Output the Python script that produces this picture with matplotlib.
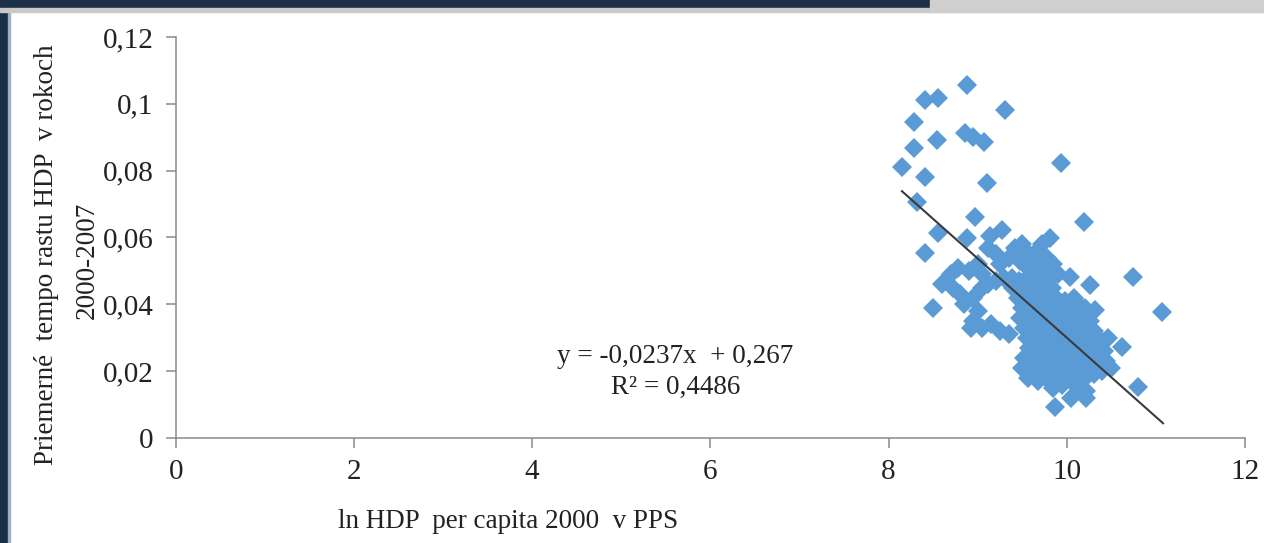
import numpy as np
import matplotlib.pyplot as plt
from matplotlib.patches import Rectangle

plt.rcParams["font.family"] = "Liberation Serif"
plt.rcParams["font.size"] = 21

# scattered regions away from the main cloud
outlier_x = [8.88, 8.41, 8.55, 9.31, 8.28, 8.54, 8.28, 8.86, 8.95, 9.07, 9.93,
             8.15, 8.41, 9.10, 8.32, 8.97, 10.19, 8.55, 8.88, 9.14, 9.27, 8.41,
             9.81, 10.74, 11.07, 10.80, 9.87, 10.62, 10.26, 10.04, 10.32, 8.50]
outlier_y = [0.1056, 0.1011, 0.1017, 0.0981, 0.0946, 0.0892, 0.0868, 0.0913,
             0.0901, 0.0886, 0.0823, 0.0811, 0.0781, 0.0763, 0.0706, 0.0661,
             0.0646, 0.0613, 0.0598, 0.0604, 0.0622, 0.0554, 0.0598, 0.0482,
             0.0377, 0.0153, 0.0093, 0.0272, 0.0458, 0.0482, 0.0383, 0.0389]

# upper part of the cloud
upper_x = [9.12, 9.20, 9.25, 9.42, 9.50, 9.58, 9.66, 9.72, 9.78, 9.85, 9.48,
           9.56, 9.64, 9.72, 9.90, 9.35]
upper_y = [0.057, 0.055, 0.052, 0.057, 0.058, 0.055, 0.056, 0.058, 0.054,
           0.052, 0.053, 0.051, 0.052, 0.051, 0.049, 0.054]

# left lobe of the cloud
lobe_x = [8.60, 8.70, 8.78, 8.90, 9.00, 9.05, 8.72, 8.80, 8.95, 9.05, 8.85,
          9.00, 8.95, 8.92, 9.05, 9.15, 9.25, 9.35, 9.12, 9.20, 9.30]
lobe_y = [0.046, 0.049, 0.051, 0.050, 0.052, 0.049, 0.045, 0.043, 0.042,
          0.045, 0.040, 0.038, 0.035, 0.033, 0.033, 0.034, 0.032, 0.031,
          0.046, 0.047, 0.048]

# dense core of the cloud
core_x = [9.38, 9.46, 9.55, 9.62, 9.70, 9.80,
          9.40, 9.50, 9.58, 9.66, 9.75, 9.83,
          9.45, 9.55, 9.62, 9.70, 9.78, 9.88, 9.98, 10.08,
          9.50, 9.60, 9.68, 9.75, 9.85, 9.93, 10.02, 10.12, 10.20,
          9.48, 9.58, 9.66, 9.74, 9.82, 9.90, 10.00, 10.10, 10.18, 10.26,
          9.52, 9.62, 9.70, 9.80, 9.88, 9.96, 10.06, 10.14, 10.22, 10.30,
          9.55, 9.65, 9.74, 9.84, 9.92, 10.02, 10.10, 10.20, 10.28, 10.38, 10.46,
          9.58, 9.68, 9.78, 9.88, 9.96, 10.06, 10.16, 10.24, 10.34, 10.42,
          9.52, 9.65, 9.75, 9.85, 9.95, 10.05, 10.14, 10.24, 10.32, 10.44,
          9.50, 9.60, 9.70, 9.80, 9.90, 10.00, 10.10, 10.20, 10.30, 10.40, 10.50,
          9.56, 9.68, 9.77, 9.88, 9.98, 10.10, 10.20, 10.30,
          9.85, 9.95, 10.12, 10.22,
          10.05, 10.22]
core_y = [0.048, 0.047, 0.048, 0.049, 0.047, 0.048,
          0.045, 0.044, 0.046, 0.045, 0.044, 0.045,
          0.042, 0.041, 0.043, 0.042, 0.041, 0.042, 0.041, 0.042,
          0.039, 0.038, 0.039, 0.040, 0.039, 0.038, 0.039, 0.040, 0.039,
          0.036, 0.035, 0.036, 0.037, 0.036, 0.035, 0.036, 0.037, 0.036, 0.035,
          0.033, 0.032, 0.033, 0.034, 0.033, 0.032, 0.033, 0.034, 0.033, 0.032,
          0.030, 0.029, 0.030, 0.031, 0.030, 0.029, 0.030, 0.031, 0.030, 0.029, 0.030,
          0.027, 0.026, 0.027, 0.028, 0.027, 0.026, 0.027, 0.028, 0.027, 0.026,
          0.024, 0.023, 0.024, 0.025, 0.024, 0.023, 0.024, 0.025, 0.024, 0.023,
          0.021, 0.020, 0.021, 0.022, 0.021, 0.020, 0.021, 0.022, 0.021, 0.020, 0.021,
          0.018, 0.017, 0.018, 0.019, 0.018, 0.017, 0.018, 0.019,
          0.015, 0.016, 0.015, 0.014,
          0.012, 0.012]

ln_hdp = outlier_x + upper_x + lobe_x + core_x
growth = outlier_y + upper_y + lobe_y + core_y

slope, intercept, r2 = -0.0237, 0.267, 0.4486
trend_x = np.array([8.15, 11.08])

x_ticks = [0, 2, 4, 6, 8, 10, 12]
y_ticks = [0, 0.02, 0.04, 0.06, 0.08, 0.1, 0.12]
y_tick_labels = ["0", "0,02", "0,04", "0,06", "0,08", "0,1", "0,12"]

fig = plt.figure(figsize=(12.64, 5.43), dpi=100)
ax = fig.add_axes([0.139, 0.1934, 0.846, 0.7385])

ax.plot(ln_hdp, growth, "D", color="#5b9bd5", markersize=10,
        markeredgewidth=0, zorder=2)
ax.plot(trend_x, slope * trend_x + intercept, color="#3a3a3a", lw=1.5, zorder=3)

ax.set_xlim(0, 12)
ax.set_ylim(0, 0.12)
ax.set_xticks(x_ticks)
ax.set_xticklabels([str(t) for t in x_ticks])
ax.set_yticks(y_ticks)
ax.set_yticklabels(y_tick_labels)
for side in ["top", "right"]:
    ax.spines[side].set_visible(False)
for side in ["left", "bottom"]:
    ax.spines[side].set_color("#8a8a8a")
    ax.spines[side].set_linewidth(1.1)
ax.tick_params(axis="both", colors="#8a8a8a", length=7, width=1.1,
               labelcolor="#222222")
ax.tick_params(axis="y", pad=9)
ax.tick_params(axis="x", pad=8)

ax.text(5.61, 0.0245, "y = -0,0237x  + 0,267", ha="center", va="center",
        fontsize=19.5, color="#222222")
ax.text(5.61, 0.0150, "R² = 0,4486", ha="center", va="center",
        fontsize=19.5, color="#222222")

fig.text(338 / 1264, 1 - 521 / 543, "ln HDP  per capita 2000  v PPS",
         ha="left", va="center", fontsize=19.5, color="#222222")
fig.text(47 / 1264, 1 - 255 / 543, "Priemerné  tempo rastu HDP  v rokoch",
         rotation=90, ha="center", va="center", fontsize=19.5, color="#222222")
fig.text(87 / 1264, 1 - 260 / 543, "2000-2007",
         rotation=90, ha="center", va="center", fontsize=19.5, color="#222222")

# screenshot frame
fig.patches.append(Rectangle((0, 0), 8 / 1264, 1, transform=fig.transFigure,
                             color="#1b3047", zorder=5))
fig.patches.append(Rectangle((8 / 1264, 0), 2 / 1264, 1, transform=fig.transFigure,
                             color="#9fb0c0", zorder=5))
fig.patches.append(Rectangle((0, 1 - 8 / 543), 1, 8 / 543, transform=fig.transFigure,
                             color="#1b3047", zorder=5))
fig.patches.append(Rectangle((0, 1 - 12 / 543), 1, 4 / 543, transform=fig.transFigure,
                             color="#c9c9c9", zorder=5))
fig.patches.append(Rectangle((930 / 1264, 1 - 12 / 543), 334 / 1264, 12 / 543,
                             transform=fig.transFigure, color="#cfcfcf", zorder=6))

fig.savefig("out.png", dpi=100)
